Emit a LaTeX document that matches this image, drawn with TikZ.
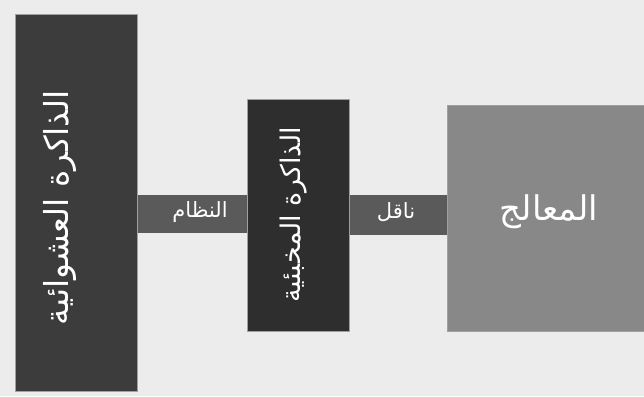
\documentclass[tikz,border=0pt]{standalone}
\usepackage{fontspec}
\newfontfamily\arabicfont[Script=Arabic]{DejaVu Sans}
\TeXXeTstate=1
\definecolor{bgc}{HTML}{ECECEC}
\definecolor{ramc}{HTML}{3C3C3C}
\definecolor{cachec}{HTML}{2E2E2E}
\definecolor{cpuc}{HTML}{888888}
\definecolor{busc}{HTML}{5A5A5A}
\definecolor{edgec}{HTML}{A0A0A0}
\tikzset{
  blockbox/.style={draw=edgec, line width=0.6pt, inner sep=0pt, text=white, font=\arabicfont},
  busbar/.style={fill=busc, inner sep=0pt},
  buslabel/.style={text=white, inner sep=0pt, font=\arabicfont\fontsize{21}{24}\selectfont},
}
\begin{document}
\begin{tikzpicture}[x=1pt,y=-1pt]
\useasboundingbox (0,0) rectangle (644,396);
\fill[bgc] (0,0) rectangle (644,396);
% buses
\node[busbar, minimum width=110pt, minimum height=38pt] (bus1) at (192,214) {};
\node[busbar, minimum width=98pt, minimum height=40pt] (bus2) at (398,215) {};
\node[buslabel] (lbl1) at (200,212) {\beginR النظام\endR};
\node[buslabel] (lbl2) at (396,212) {\beginR ناقل\endR};
% blocks
\node[blockbox, fill=ramc, minimum width=122pt, minimum height=377pt] (ram) at (76,202.5) {};
\node[blockbox, fill=cachec, minimum width=102pt, minimum height=232pt] (cache) at (298,215) {};
\node[blockbox, fill=cpuc, minimum width=200pt, minimum height=226pt] (cpu) at (547,218) {};
% texts
\node[text=white, inner sep=0pt, font=\arabicfont\fontsize{33}{38}\selectfont, rotate=90] (ramt) at (60,208) {\beginR الذاكرة العشوائية\endR};
\node[text=white, inner sep=0pt, font=\arabicfont\fontsize{27}{31}\selectfont, rotate=90] (cachet) at (294,215) {\beginR الذاكرة المخبئية\endR};
\node[text=white, inner sep=0pt, font=\arabicfont\fontsize{34}{38}\selectfont] (cput) at (549,212) {\beginR المعالج\endR};
\end{tikzpicture}
\end{document}
